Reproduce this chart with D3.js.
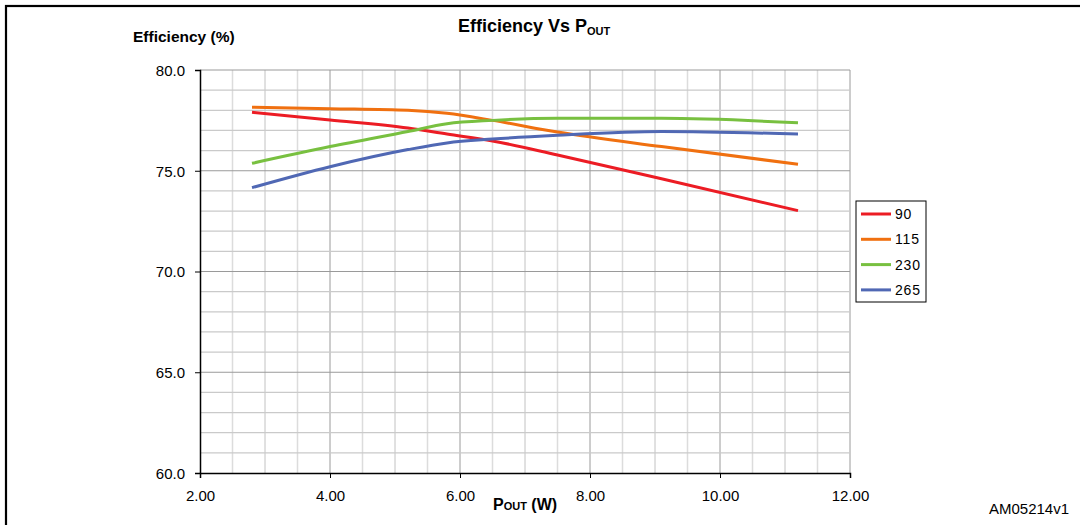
<!DOCTYPE html>
<html>
<head>
<meta charset="utf-8">
<script src="https://cdn.jsdelivr.net/npm/d3@7"></script>
<style>
  html, body { margin: 0; padding: 0; background: #fff; }
  svg { display: block; font-family: "Liberation Sans", Arial, sans-serif; }
</style>
</head>
<body>
<svg id="chart" width="1080" height="525"></svg>
<script>
// Output power (W) at which each efficiency curve was sampled
const pout = [2.8, 4.0, 5.2, 5.8, 6.5, 7.5, 9.1, 11.2];

// Efficiency (%) per input voltage
const eff90  = [77.9, 77.52, 77.12, 76.82, 76.48, 75.78, 74.6, 73.02];
const eff115 = [78.15, 78.08, 78.0, 77.85, 77.5, 76.92, 76.2, 75.32];
const eff230 = [75.37, 76.2, 76.95, 77.33, 77.5, 77.6, 77.6, 77.38];
const eff265 = [74.16, 75.2, 76.05, 76.38, 76.57, 76.76, 76.95, 76.82];

const seriesNames = ["90", "115", "230", "265"];
const seriesValues = [eff90, eff115, eff230, eff265];
const seriesColors = ["#ec1c24", "#f07010", "#78c040", "#5068b4"];

const xTicks = [2, 4, 6, 8, 10, 12];
const yTicks = [60, 65, 70, 75, 80];

const svg = d3.select("#chart");

const x = d3.scaleLinear().domain([2, 12]).range([200, 850]);
const y = d3.scaleLinear().domain([60, 80]).range([473, 70]);

// Outer frame
svg.append("rect")
  .attr("x", 6).attr("y", 6)
  .attr("width", 1200).attr("height", 700)
  .attr("fill", "none").attr("stroke", "#000").attr("stroke-width", 2.2);

// Grid: vertical lines every 0.5 W
const grid = svg.append("g");
d3.range(2.5, 12.01, 0.5).forEach(v => {
  const even = Math.abs(v % 2) < 1e-9;
  const whole = Math.abs(v % 1) < 1e-9;
  grid.append("line")
    .attr("x1", x(v)).attr("x2", x(v))
    .attr("y1", y(60)).attr("y2", y(80))
    .attr("stroke", even ? "#9a9a9a" : (whole ? "#c2c2c2" : "#dcdcdc"))
    .attr("stroke-width", whole ? 1 : 1.5);
});
// Grid: horizontal lines every 1 %
d3.range(61, 80.01, 1).forEach(v => {
  const major = v % 5 === 0;
  grid.append("line")
    .attr("x1", x(2)).attr("x2", x(12))
    .attr("y1", y(v)).attr("y2", y(v))
    .attr("stroke", major ? "#9a9a9a" : "#cacaca")
    .attr("stroke-width", major ? 1 : 1.2);
});

// Axes
const xAxis = d3.axisBottom(x).tickValues(xTicks).tickSize(5).tickFormat(d3.format(".2f"));
const yAxis = d3.axisLeft(y).tickValues(yTicks).tickSize(5).tickFormat(d3.format(".1f"));

const gx = svg.append("g").attr("transform", `translate(0,${y(60)})`).call(xAxis);
gx.select(".domain").attr("stroke", "#000").attr("stroke-width", 1.5);
gx.selectAll(".tick line").attr("stroke", "#000");
gx.selectAll(".tick text")
  .attr("font-size", 15).attr("font-family", "Liberation Sans, Arial, sans-serif")
  .attr("fill", "#000").attr("dy", null).attr("y", 28);

const gy = svg.append("g").attr("transform", `translate(${x(2)},0)`).call(yAxis);
gy.select(".domain").attr("stroke", "#000").attr("stroke-width", 1.5);
gy.selectAll(".tick line").attr("stroke", "#000");
gy.selectAll(".tick text")
  .attr("font-size", 15).attr("font-family", "Liberation Sans, Arial, sans-serif")
  .attr("fill", "#000").attr("x", -15).attr("dy", "0.35em");

// Series lines
const line = d3.line()
  .x((d, i) => x(pout[i]))
  .y(d => y(d))
  .curve(d3.curveMonotoneX);

seriesValues.forEach((vals, k) => {
  svg.append("path")
    .datum(vals)
    .attr("d", line)
    .attr("fill", "none")
    .attr("stroke", seriesColors[k])
    .attr("stroke-width", 3)
    .attr("stroke-linejoin", "round");
});

// Chart title
const title = svg.append("text")
  .attr("x", 458).attr("y", 32)
  .attr("font-size", 18).attr("font-weight", "bold").attr("fill", "#000");
title.append("tspan").text("Efficiency Vs P");
title.append("tspan").attr("font-size", 11).attr("dy", 3).text("OUT");

// Y axis title
svg.append("text")
  .attr("x", 133).attr("y", 42)
  .attr("font-size", 15.5).attr("font-weight", "bold").attr("fill", "#000")
  .text("Efficiency (%)");

// X axis title
const xt = svg.append("text")
  .attr("x", 493).attr("y", 510)
  .attr("font-size", 16).attr("font-weight", "bold").attr("fill", "#000");
xt.append("tspan").text("P");
xt.append("tspan").attr("font-size", 11).text("OUT");
xt.append("tspan").text(" (W)");

// Legend
const legend = svg.append("g");
legend.append("rect")
  .attr("x", 856).attr("y", 201).attr("width", 70).attr("height", 101)
  .attr("fill", "#fff").attr("stroke", "#000").attr("stroke-width", 1);
seriesNames.forEach((name, k) => {
  const ly = 214 + k * 25.3;
  legend.append("line")
    .attr("x1", 861).attr("x2", 891).attr("y1", ly).attr("y2", ly)
    .attr("stroke", seriesColors[k]).attr("stroke-width", 3);
  legend.append("text")
    .attr("x", 895).attr("y", ly).attr("dy", "0.36em")
    .attr("font-size", 14).attr("letter-spacing", 0.8).attr("fill", "#000")
    .text(name);
});

// Drawing reference code
svg.append("text")
  .attr("x", 989).attr("y", 514)
  .attr("font-size", 15).attr("fill", "#000")
  .text("AM05214v1");
</script>
</body>
</html>
